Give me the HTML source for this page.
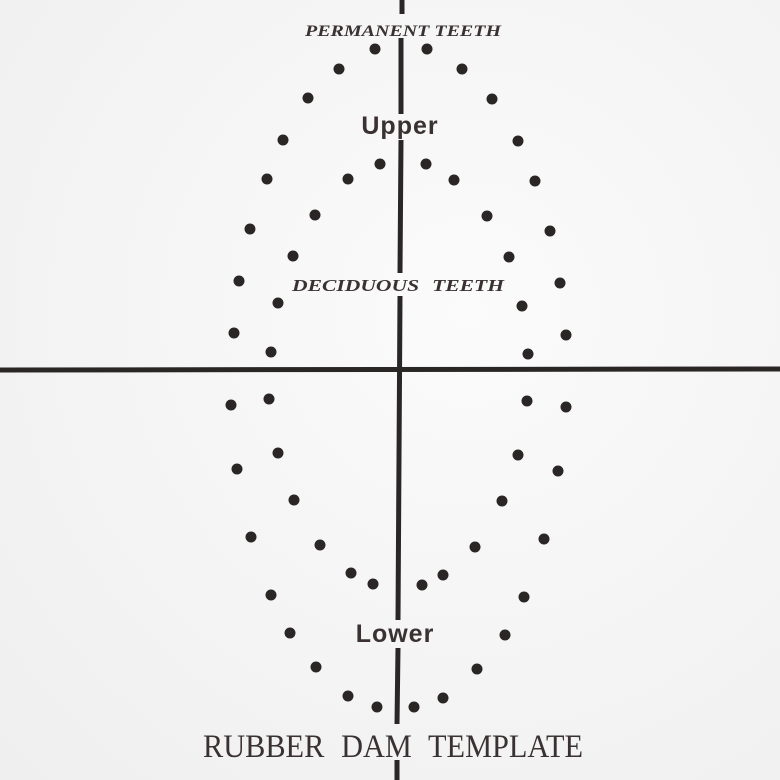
<!DOCTYPE html>
<html><head><style>html,body{margin:0;padding:0;background:#f4f4f4;overflow:hidden}svg{display:block}</style></head>
<body>
<svg width="780" height="780" xmlns="http://www.w3.org/2000/svg">
<defs><radialGradient id="bg" cx="0.6" cy="0.4" r="0.9"><stop offset="0" stop-color="#fbfbfb"/><stop offset="1" stop-color="#eeeeee"/></radialGradient></defs>
<rect width="780" height="780" fill="url(#bg)"/>
<g stroke="#2a2626" stroke-width="5">
<line x1="402" y1="0" x2="402" y2="14"/>
<line x1="401" y1="38" x2="401" y2="114"/>
<line x1="401" y1="140" x2="400" y2="273"/>
<line x1="400" y1="296" x2="398" y2="620"/>
<line x1="398" y1="648" x2="397" y2="724"/>
<line x1="397" y1="760" x2="397" y2="780"/>
<line x1="0" y1="370" x2="780" y2="369"/>
</g>
<g fill="#2a2626">
<circle cx="375" cy="49" r="5.5"/><circle cx="427" cy="49" r="5.5"/><circle cx="339" cy="69" r="5.5"/><circle cx="462" cy="69" r="5.5"/><circle cx="308" cy="98" r="5.5"/><circle cx="492" cy="99" r="5.5"/><circle cx="283" cy="140" r="5.5"/><circle cx="518" cy="141" r="5.5"/><circle cx="267" cy="179" r="5.5"/><circle cx="535" cy="181" r="5.5"/><circle cx="250" cy="229" r="5.5"/><circle cx="550" cy="231" r="5.5"/><circle cx="239" cy="281" r="5.5"/><circle cx="560" cy="283" r="5.5"/><circle cx="234" cy="333" r="5.5"/><circle cx="566" cy="335" r="5.5"/>
<circle cx="380" cy="164" r="5.5"/><circle cx="426" cy="164" r="5.5"/><circle cx="348" cy="179" r="5.5"/><circle cx="454" cy="180" r="5.5"/><circle cx="315" cy="215" r="5.5"/><circle cx="487" cy="216" r="5.5"/><circle cx="293" cy="256" r="5.5"/><circle cx="509" cy="257" r="5.5"/><circle cx="278" cy="303" r="5.5"/><circle cx="522" cy="306" r="5.5"/><circle cx="271" cy="352" r="5.5"/><circle cx="528" cy="354" r="5.5"/>
<circle cx="231" cy="405" r="5.5"/><circle cx="566" cy="407" r="5.5"/><circle cx="237" cy="469" r="5.5"/><circle cx="558" cy="471" r="5.5"/><circle cx="251" cy="537" r="5.5"/><circle cx="544" cy="539" r="5.5"/><circle cx="271" cy="595" r="5.5"/><circle cx="524" cy="597" r="5.5"/><circle cx="290" cy="633" r="5.5"/><circle cx="505" cy="635" r="5.5"/><circle cx="316" cy="667" r="5.5"/><circle cx="477" cy="669" r="5.5"/><circle cx="348" cy="696" r="5.5"/><circle cx="443" cy="698" r="5.5"/><circle cx="377" cy="707" r="5.5"/><circle cx="414" cy="707" r="5.5"/>
<circle cx="269" cy="399" r="5.5"/><circle cx="527" cy="401" r="5.5"/><circle cx="278" cy="453" r="5.5"/><circle cx="518" cy="455" r="5.5"/><circle cx="294" cy="500" r="5.5"/><circle cx="502" cy="501" r="5.5"/><circle cx="320" cy="545" r="5.5"/><circle cx="475" cy="547" r="5.5"/><circle cx="351" cy="573" r="5.5"/><circle cx="443" cy="575" r="5.5"/><circle cx="373" cy="584" r="5.5"/><circle cx="422" cy="585" r="5.5"/>
</g>
<g fill="#3a3232">
<text x="403" y="36" font-family="Liberation Serif, serif" font-style="italic" font-weight="bold" font-size="16" text-anchor="middle" textLength="196" lengthAdjust="spacingAndGlyphs">PERMANENT TEETH</text>
<text x="400" y="134" font-family="Liberation Sans, sans-serif" font-weight="bold" font-size="25" text-anchor="middle" letter-spacing="1">Upper</text>
<text x="398" y="291" font-family="Liberation Serif, serif" font-style="italic" font-weight="bold" font-size="17" text-anchor="middle" word-spacing="6" textLength="212" lengthAdjust="spacingAndGlyphs">DECIDUOUS TEETH</text>
<text x="395" y="642" font-family="Liberation Sans, sans-serif" font-weight="bold" font-size="25" text-anchor="middle" letter-spacing="1">Lower</text>
<text x="203" y="757" font-family="Liberation Serif, serif" font-size="33" word-spacing="10" textLength="380" lengthAdjust="spacingAndGlyphs">RUBBER DAM TEMPLATE</text>
</g>
</svg>
</body></html>
